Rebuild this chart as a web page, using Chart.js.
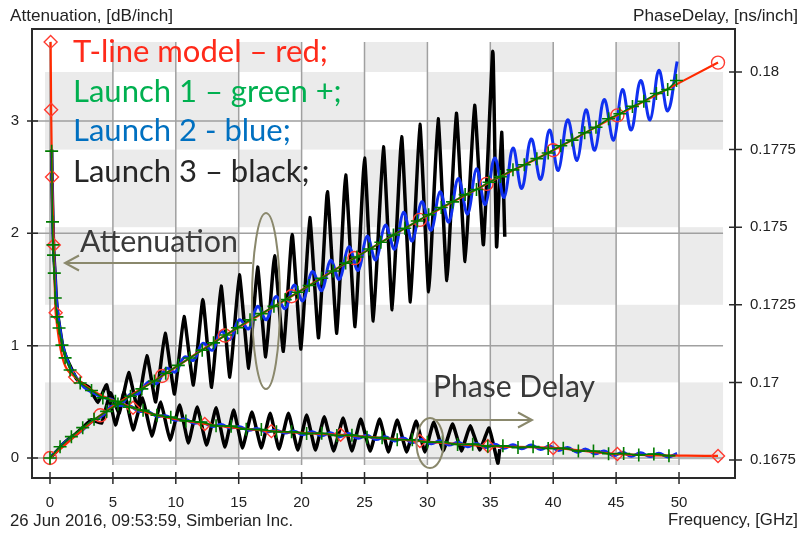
<!DOCTYPE html>
<html>
<head>
<meta charset="utf-8">
<script src="https://cdn.jsdelivr.net/npm/chart.js@4.4.1/dist/chart.umd.min.js"></script>
<style>
html, body { margin: 0; padding: 0; background: #fff; }
</style>
</head>
<body>
<canvas id="chart" width="805" height="533"></canvas>
<script>
// ticks
var freqTicks = [0, 5, 10, 15, 20, 25, 30, 35, 40, 45, 50];
var attTicks = [0, 1, 2, 3];
var delayTicks = [0.1675, 0.17, 0.1725, 0.175, 0.1775, 0.18];
var delayTickLabels = ['0.1675', '0.17', '0.1725', '0.175', '0.1775', '0.18'];

// T-line model (red)
var modelAttFreq = [0, 4.0, 8.9, 13.9, 19.2, 24.2, 29.4, 34.7, 40.0, 45.1, 53.1];
var modelAtt = [0, 0.38, 0.73, 1.09, 1.44, 1.78, 2.12, 2.44, 2.74, 3.05, 3.52];
var modelDelayFreq = [0.05, 0.09, 0.16, 0.3, 0.45, 2.0, 6.6, 12.3, 17.6, 23.1, 29.4, 34.8, 40.0, 45.1, 53.1];
var modelDelay = [0.18097, 0.17878, 0.17662, 0.17443, 0.17224, 0.17017, 0.16918, 0.16866, 0.16843, 0.16831, 0.16811, 0.16795, 0.16789, 0.16769, 0.16763];

// Launch 1 (green +)
var l1AttFreq = [0, 0.8, 1.7, 2.6, 3.5, 4.5, 5.4, 6.4, 7.3, 8.3, 9.2, 10.2, 11.1, 12.1, 13.0, 14.0, 14.9, 15.9, 16.8, 17.8,
  18.7, 19.7, 20.6, 21.6, 22.5, 23.5, 24.4, 25.4, 26.3, 27.3, 28.2, 29.2, 30.1, 31.1, 32.0, 33.0, 33.9, 34.9, 35.8, 36.8,
  37.7, 38.7, 39.6, 40.6, 41.5, 42.5, 43.4, 44.4, 45.3, 46.3, 47.2, 48.2, 49.1, 49.8];
var l1Att = [0, 0.10, 0.19, 0.27, 0.345, 0.415, 0.48, 0.55, 0.615, 0.685, 0.755, 0.825, 0.89, 0.96, 1.025, 1.095, 1.16, 1.23, 1.285, 1.35,
  1.41, 1.475, 1.535, 1.60, 1.665, 1.735, 1.79, 1.86, 1.92, 1.985, 2.045, 2.11, 2.165, 2.23, 2.28, 2.345, 2.39, 2.455, 2.505, 2.565,
  2.61, 2.665, 2.715, 2.78, 2.83, 2.895, 2.945, 3.02, 3.065, 3.13, 3.175, 3.245, 3.28, 3.36];
var l1DelayFreq = [0.13, 0.2, 0.24, 0.28, 0.34, 0.42, 0.55, 0.72, 0.95, 1.2, 1.6, 2.4, 3.3, 4.2, 5.2, 6.3, 7.4, 8.5, 9.6, 10.8,
  12.0, 13.2, 14.4, 15.6, 16.8, 18.0, 19.2, 20.4, 21.6, 22.8, 24.0, 25.2, 26.4, 27.6, 28.8, 30.0, 31.2, 32.4, 33.6, 34.8,
  36.0, 37.2, 38.4, 39.6, 40.8, 42.0, 43.2, 44.4, 45.6, 46.8, 48.0, 49.2];
var l1Delay = [0.17745, 0.17517, 0.17443, 0.17410, 0.17352, 0.17272, 0.17211, 0.17175, 0.17120, 0.17079, 0.17040, 0.16998, 0.16974, 0.16950, 0.16939, 0.16920, 0.16910, 0.16894, 0.16888, 0.16876,
  0.16872, 0.16860, 0.16859, 0.16849, 0.16848, 0.16841, 0.16841, 0.16835, 0.16836, 0.16829, 0.16830, 0.16823, 0.16822, 0.16815, 0.16815, 0.16807, 0.16808, 0.16800, 0.16801, 0.16794,
  0.16796, 0.16790, 0.16793, 0.16787, 0.16788, 0.16779, 0.16779, 0.16770, 0.16771, 0.16766, 0.16769, 0.16764];

// Launch 2 (blue)
var l2Freq = [0.13, 0.16, 0.23, 0.3, 0.4, 0.5, 0.65, 0.8, 1.0, 1.3, 1.7, 2.1, 2.7, 3.4, 4.2,
  4.9, 5.6, 6.35, 7.05, 7.8, 8.5, 9.25, 9.95, 10.7, 11.4, 12.15, 12.9, 13.6, 14.3, 15.05, 15.8, 16.5, 17.2, 17.95, 18.7,
  19.4, 20.1, 20.85, 21.6, 22.3, 23.0, 23.75, 24.5, 25.2, 25.9, 26.65, 27.4, 28.1, 28.8, 29.55, 30.3, 31.0, 31.7, 32.45, 33.2,
  33.9, 34.6, 35.35, 36.1, 36.8, 37.5, 38.25, 39.0, 39.7, 40.4, 41.15, 41.9, 42.6, 43.3, 44.05, 44.8, 45.5, 46.2, 46.95, 47.7,
  48.4, 49.1, 49.85];
var l2Att = [0.015, 0.02, 0.028, 0.035, 0.045, 0.055, 0.07, 0.09, 0.12, 0.15, 0.18, 0.21, 0.26, 0.33, 0.38,
  0.463, 0.47, 0.565, 0.574, 0.675, 0.665, 0.798, 0.766, 0.90, 0.87, 1.02, 0.96, 1.127, 1.056, 1.23, 1.15, 1.35, 1.232, 1.437, 1.33,
  1.54, 1.40, 1.66, 1.49, 1.76, 1.59, 1.88, 1.67, 1.974, 1.763, 2.072, 1.86, 2.187, 1.932, 2.281, 2.028, 2.37, 2.10, 2.487, 2.172,
  2.574, 2.256, 2.67, 2.32, 2.76, 2.40, 2.84, 2.48, 2.92, 2.56, 3.01, 2.65, 3.10, 2.74, 3.19, 2.83, 3.28, 2.92, 3.36, 3.01,
  3.45, 3.09, 3.53];
var l2Delay = [0.1775, 0.1766, 0.1752, 0.1742, 0.1735, 0.1727, 0.1721, 0.1717, 0.1712, 0.1708, 0.1704, 0.17015, 0.16985, 0.16967, 0.16952,
  0.16945, 0.16927, 0.16924, 0.16907, 0.16906, 0.16891, 0.16892, 0.16878, 0.16882, 0.16869, 0.16871, 0.16858, 0.16864, 0.16853, 0.16857, 0.16846, 0.16851, 0.16840, 0.16846, 0.16837,
  0.16843, 0.16832, 0.16841, 0.16828, 0.16838, 0.16825, 0.16835, 0.16820, 0.16830, 0.16816, 0.16825, 0.16811, 0.16821, 0.16806, 0.16816, 0.16802, 0.16812, 0.16798, 0.16807, 0.16793,
  0.16803, 0.16790, 0.16801, 0.16788, 0.16799, 0.16786, 0.16798, 0.16784, 0.16795, 0.16781, 0.16790, 0.16775, 0.16785, 0.16770, 0.16779, 0.16764, 0.16775, 0.16762, 0.16773, 0.16761,
  0.16772, 0.16760, 0.16771];

// Launch 3 (black)
var l3AttFreq = [0.13, 0.3, 0.6, 1.0, 1.5, 2.0, 2.6, 3.3,
  4.1, 4.8, 5.5, 6.25, 6.95, 7.7, 8.4, 9.15, 9.9, 10.65, 11.4, 12.15, 12.85, 13.6, 14.3, 15.05, 15.8, 16.5, 17.15, 17.85,
  18.55, 19.25, 19.95, 20.65, 21.35, 22.05, 22.8, 23.5, 24.25, 25.0, 25.7, 26.5, 27.2, 27.95, 28.65, 29.4, 30.1, 30.85,
  31.55, 32.3, 33.0, 33.75, 34.45, 35.2, 35.5, 35.9, 36.15];
var l3Att = [0.015, 0.035, 0.07, 0.12, 0.17, 0.21, 0.27, 0.34,
  0.31, 0.58, 0.40, 0.76, 0.45, 0.91, 0.50, 1.11, 0.57, 1.26, 0.65, 1.41, 0.63, 1.53, 0.72, 1.63, 0.80, 1.70, 0.90, 1.80,
  0.95, 1.99, 0.97, 2.14, 1.07, 2.37, 1.11, 2.52, 1.17, 2.67, 1.22, 2.77, 1.32, 2.86, 1.39, 2.97, 1.48, 3.02,
  1.58, 3.07, 1.75, 3.14, 1.90, 3.62, 1.88, 2.90, 1.97];
var l3DelayFreq = [0.13, 0.16, 0.23, 0.3, 0.4, 0.5, 0.65, 0.8, 1.0, 1.3, 1.7, 2.1, 2.6, 3.1, 3.8,
  4.5, 5.2, 5.9, 6.6, 7.35, 8.1, 8.8, 9.55, 10.3, 11.0, 11.7, 12.45, 13.2, 13.9, 14.6, 15.3, 16.05, 16.8, 17.5, 18.2,
  18.95, 19.7, 20.4, 21.1, 21.8, 22.55, 23.3, 24.0, 24.7, 25.45, 26.2, 26.9, 27.6, 28.35, 29.1, 29.8, 30.5, 31.25,
  32.0, 32.7, 33.4, 34.15, 34.9, 35.6, 35.75];
var l3Delay = [0.1775, 0.1766, 0.1752, 0.1742, 0.1735, 0.1727, 0.1721, 0.1717, 0.1712, 0.1708, 0.17045, 0.17012, 0.16995, 0.16985, 0.16935,
  0.16992, 0.16863, 0.16969, 0.16847, 0.16950, 0.16827, 0.16937, 0.16814, 0.16927, 0.16805, 0.16921, 0.16798, 0.16918, 0.16792, 0.16911, 0.16789, 0.16905, 0.16789, 0.16901, 0.16785,
  0.16901, 0.16782, 0.16895, 0.16782, 0.16889, 0.16779, 0.16885, 0.16779, 0.16882, 0.16779, 0.16882, 0.16776, 0.16879, 0.16776, 0.16876, 0.16776, 0.16872, 0.16779,
  0.16866, 0.16779, 0.16860, 0.16782, 0.16853, 0.16740, 0.16785];

function pts(xs, ys) {
    return xs.map(function(x, i) { return { x: x, y: ys[i] }; });
}

var RED = '#ff2a00', RED_MK = '#ff3b30', GREEN = '#007a00', BLUE = '#1030f0', OLIVE = '#8a886c';

function fitText(ctx, txt, x, y, w, family, color, align) {
    ctx.font = '100px ' + family;
    var size = 100 * w / ctx.measureText(txt).width;
    ctx.font = size.toFixed(2) + 'px ' + family;
    ctx.fillStyle = color;
    ctx.textAlign = align || 'left';
    ctx.textBaseline = 'alphabetic';
    ctx.fillText(txt, x, y);
    return size;
}

function arrow(ctx, x1, y1, x2, y2, dir) {
    ctx.beginPath();
    ctx.moveTo(x1, y1);
    ctx.lineTo(x2, y2);
    ctx.moveTo(x2 - dir * 14, y2 - 7.5);
    ctx.lineTo(x2, y2);
    ctx.lineTo(x2 - dir * 14, y2 + 7.5);
    ctx.stroke();
}

var backdrop = {
    id: 'backdrop',
    beforeDatasetsDraw: function(chart) {
        var ctx = chart.ctx, sx = chart.scales.x, sa = chart.scales.yA, sp = chart.scales.yP;
        var area = chart.chartArea;
        var cols = [-0.4, 5, 10, 15, 20, 25, 30, 35, 40, 45, 50, 53.5];
        var rows = [0.180966, 0.18, 0.1775, 0.175, 0.1725, 0.17, 0.1675, 0.167339];
        ctx.save();
        ctx.fillStyle = '#ebebeb';
        for (var r = 0; r < rows.length - 1; r++) {
            for (var c = 0; c < cols.length - 1; c++) {
                if ((r + c) % 2 == 1) {
                    var x0 = sx.getPixelForValue(cols[c]), x1 = sx.getPixelForValue(cols[c + 1]);
                    var y0 = sp.getPixelForValue(rows[r]), y1 = sp.getPixelForValue(rows[r + 1]);
                    ctx.fillRect(x0, y0, x1 - x0, y1 - y0);
                }
            }
        }
        ctx.strokeStyle = '#a0a0a0';
        ctx.lineWidth = 1.5;
        ctx.beginPath();
        var gTop = sp.getPixelForValue(rows[0]), gBot = sp.getPixelForValue(rows[rows.length - 1]);
        freqTicks.forEach(function(v) {
            var px = sx.getPixelForValue(v);
            ctx.moveTo(px, gTop);
            ctx.lineTo(px, gBot);
        });
        var gRight = sx.getPixelForValue(53.5);
        attTicks.forEach(function(v) {
            var py = sa.getPixelForValue(v);
            ctx.moveTo(area.left, py);
            ctx.lineTo(gRight, py);
        });
        ctx.stroke();
        ctx.restore();
    },
    afterDraw: function(chart) {
        var ctx = chart.ctx, sx = chart.scales.x, sa = chart.scales.yA, sp = chart.scales.yP;
        var a = chart.chartArea;
        ctx.save();
        // frame + tick marks
        ctx.strokeStyle = '#2a2a2a';
        ctx.lineWidth = 2;
        ctx.strokeRect(a.left, a.top, a.right - a.left, a.bottom - a.top);
        ctx.lineWidth = 1.5;
        ctx.beginPath();
        attTicks.forEach(function(v) {
            var py = sa.getPixelForValue(v);
            ctx.moveTo(a.left - 5, py); ctx.lineTo(a.left + 6, py);
        });
        delayTicks.forEach(function(v) {
            var py = sp.getPixelForValue(v);
            ctx.moveTo(a.right - 6, py); ctx.lineTo(a.right + 7, py);
        });
        freqTicks.forEach(function(v) {
            var px = sx.getPixelForValue(v);
            ctx.moveTo(px, a.bottom - 6); ctx.lineTo(px, a.bottom + 6);
        });
        ctx.stroke();

        // axis titles
        var sans = '"Liberation Sans"';
        fitText(ctx, 'Attenuation, [dB/inch]', 10, 21, 163, sans, '#222');
        fitText(ctx, 'PhaseDelay, [ns/inch]', 798, 21, 165, sans, '#222', 'right');
        fitText(ctx, '26 Jun 2016, 09:53:59, Simberian Inc.', 10, 526, 283, sans, '#222');
        fitText(ctx, 'Frequency, [GHz]', 798, 525, 130, sans, '#222', 'right');

        // legend text
        var fam = 'Lato';
        var sz = fitText(ctx, 'T-line model \u2013 red;', 73, 62, 255, fam, '#ff2a1a');
        ctx.font = sz.toFixed(2) + 'px ' + fam;
        ctx.fillStyle = '#00b050';
        ctx.fillText('Launch 1 \u2013 green +;', 73, 102);
        ctx.fillStyle = '#0070c0';
        ctx.fillText('Launch 2 - blue;', 73, 141);
        ctx.fillStyle = '#262626';
        ctx.fillText('Launch 3 \u2013 black;', 73, 182);

        // annotations
        fitText(ctx, 'Attenuation', 80, 252, 158, fam, '#3a3a3a');
        fitText(ctx, 'Phase Delay', 433, 397, 162, fam, '#3a3a3a');
        ctx.strokeStyle = OLIVE;
        ctx.lineWidth = 2;
        arrow(ctx, 252, 263, 65, 263, -1);
        arrow(ctx, 433, 420, 532, 420, 1);
        ctx.beginPath();
        ctx.ellipse(266, 301, 14, 88, 0, 0, Math.PI * 2);
        ctx.stroke();
        ctx.beginPath();
        ctx.ellipse(430, 443, 13.5, 25, 0, 0, Math.PI * 2);
        ctx.stroke();
        ctx.restore();
    }
};

var ctx = document.getElementById('chart').getContext('2d');

// higher order = drawn earlier (underneath)
var myChart = new Chart(ctx, {
    type: 'scatter',
    data: {
        datasets: [{
                label: 'T-line model att',
                data: pts(modelAttFreq, modelAtt),
                yAxisID: 'yA',
                order: 1,
                showLine: true,
                borderColor: RED,
                borderWidth: 2.2,
                cubicInterpolationMode: 'monotone',
                pointStyle: 'circle',
                pointRadius: 6.5,
                pointBorderColor: RED_MK,
                pointBorderWidth: 1.4,
                pointBackgroundColor: 'rgba(0,0,0,0)'
            },
            {
                label: 'T-line model delay',
                data: pts(modelDelayFreq, modelDelay),
                yAxisID: 'yP',
                order: 1,
                showLine: true,
                borderColor: RED,
                borderWidth: 2.2,
                cubicInterpolationMode: 'monotone',
                pointStyle: 'rectRot',
                pointRadius: 6.5,
                pointBorderColor: RED_MK,
                pointBorderWidth: 1.4,
                pointBackgroundColor: 'rgba(0,0,0,0)'
            },
            {
                label: 'Launch 1 att',
                data: pts(l1AttFreq, l1Att),
                yAxisID: 'yA',
                order: 0,
                showLine: true,
                borderColor: GREEN,
                borderWidth: 1.5,
                pointStyle: 'cross',
                pointRadius: 6.5,
                pointBorderColor: GREEN,
                pointBorderWidth: 1.6
            },
            {
                label: 'Launch 1 delay',
                data: pts(l1DelayFreq, l1Delay),
                yAxisID: 'yP',
                order: 0,
                showLine: true,
                borderColor: GREEN,
                borderWidth: 1.5,
                pointStyle: 'cross',
                pointRadius: 6.5,
                pointBorderColor: GREEN,
                pointBorderWidth: 1.6
            },
            {
                label: 'Launch 2 att',
                data: pts(l2Freq, l2Att),
                yAxisID: 'yA',
                order: 2,
                showLine: true,
                borderColor: BLUE,
                borderWidth: 3,
                tension: 0.4,
                pointRadius: 0
            },
            {
                label: 'Launch 2 delay',
                data: pts(l2Freq, l2Delay),
                yAxisID: 'yP',
                order: 2,
                showLine: true,
                borderColor: BLUE,
                borderWidth: 3,
                tension: 0.4,
                pointRadius: 0
            },
            {
                label: 'Launch 3 att',
                data: pts(l3AttFreq, l3Att),
                yAxisID: 'yA',
                order: 3,
                showLine: true,
                borderColor: '#000',
                borderWidth: 3.5,
                tension: 0.12,
                pointRadius: 0
            },
            {
                label: 'Launch 3 delay',
                data: pts(l3DelayFreq, l3Delay),
                yAxisID: 'yP',
                order: 3,
                showLine: true,
                borderColor: '#000',
                borderWidth: 3.5,
                tension: 0.12,
                pointRadius: 0
            }
        ]
    },
    options: {
        responsive: false,
        animation: false,
        events: [],
        layout: { padding: { top: 29, left: 0, right: 0, bottom: 0 } },
        plugins: { legend: { display: false }, tooltip: { enabled: false } },
        scales: {
            x: {
                type: 'linear',
                position: 'bottom',
                min: -1.431,
                max: 54.45,
                afterBuildTicks: function(s) { s.ticks = freqTicks.map(function(v) { return { value: v }; }); },
                afterFit: function(s) { s.height = 55; },
                grid: { display: false, drawTicks: false },
                border: { display: false },
                ticks: {
                    autoSkip: false,
                    maxRotation: 0,
                    padding: 16,
                    color: '#222',
                    font: { family: 'Liberation Sans', size: 15 },
                    callback: function(v) { return String(v); }
                }
            },
            yA: {
                type: 'linear',
                position: 'left',
                min: -0.178,
                max: 3.819,
                afterBuildTicks: function(s) { s.ticks = attTicks.map(function(v) { return { value: v }; }); },
                afterFit: function(s) { s.width = 32; },
                grid: { display: false, drawTicks: false },
                border: { display: false },
                ticks: {
                    padding: 13,
                    color: '#222',
                    font: { family: 'Liberation Sans', size: 15 },
                    callback: function(v) { return String(v); }
                }
            },
            yP: {
                type: 'linear',
                position: 'right',
                min: 0.16692,
                max: 0.181385,
                afterBuildTicks: function(s) { s.ticks = delayTicks.map(function(v) { return { value: v }; }); },
                afterFit: function(s) { s.width = 70; },
                grid: { display: false, drawTicks: false },
                border: { display: false },
                ticks: {
                    padding: 15,
                    color: '#222',
                    font: { family: 'Liberation Sans', size: 15 },
                    callback: function(v, i) { return delayTickLabels[i]; }
                }
            }
        }
    },
    plugins: [backdrop]
});
</script>
</body>
</html>
